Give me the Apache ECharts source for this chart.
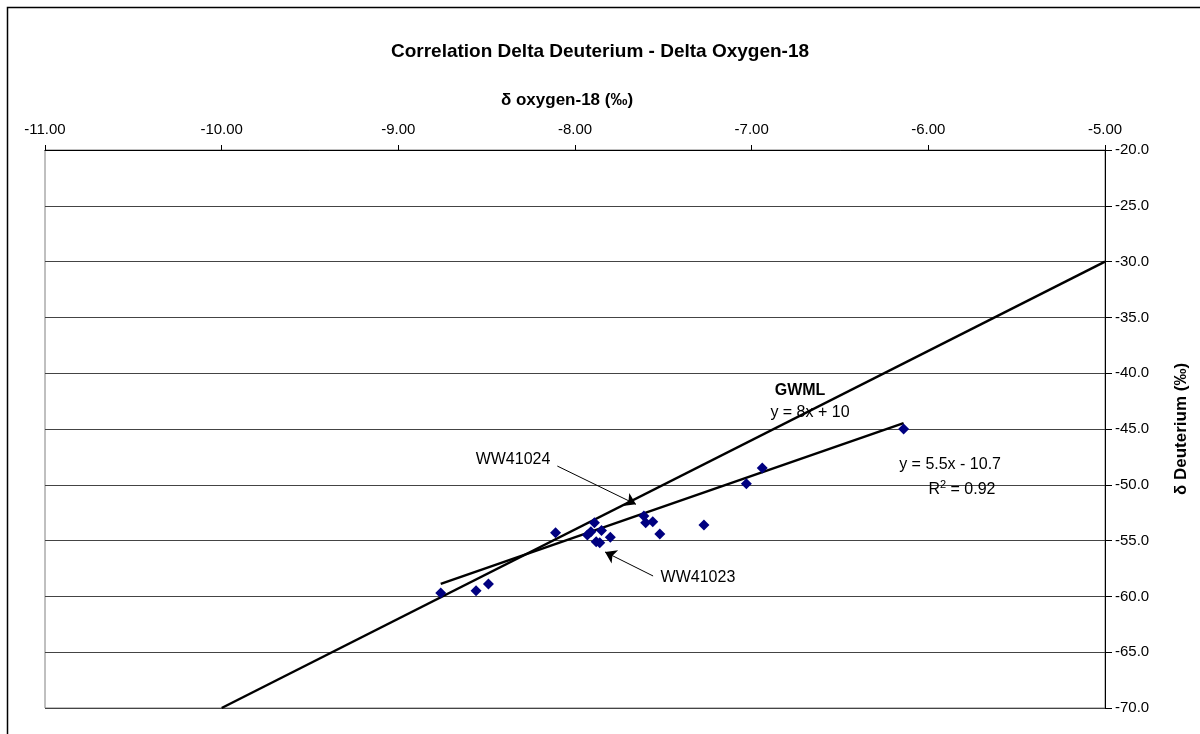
<!DOCTYPE html>
<html>
<head>
<meta charset="utf-8">
<script src="https://cdn.jsdelivr.net/npm/echarts@6/dist/echarts.min.js"></script>
<style>
  html, body { margin: 0; padding: 0; background: #fff; }
  #chart { width: 1200px; height: 734px; }
</style>
</head>
<body>
<div id="chart"></div>
<script>
// Sample isotope values (per mil)
const oxygen18 = [-8.76, -8.56, -8.49, -8.11, -7.89, -7.93, -7.91, -7.85, -7.88, -7.86,
                  -7.80, -7.61, -7.60, -7.56, -7.52, -7.27, -7.03, -6.94, -6.14];
const deuterium = [-59.7, -59.5, -58.9, -54.3, -53.4, -54.5, -54.2, -54.1, -55.1, -55.2,
                   -54.7, -52.8, -53.4, -53.3, -54.4, -53.6, -49.9, -48.5, -45.0];

// Global water meteoric line: y = 8x + 10
const gwmlSlope = 8;
const gwmlIntercept = 10;
const gwmlRange = [-10, -5];

// Linear fit of the samples: y = 5.5x - 10.7, R² = 0.92
const fitSlope = 5.5;
const fitIntercept = -10.7;
const fitR2 = 0.92;

// Axis ranges
const xRange = [-11, -5];
const yRange = [-70, -20];

const points = oxygen18.map((x, i) => [x, deuterium[i]]);
const lineAt = (m, b, x) => [x, m * x + b];
const gwmlData = gwmlRange.map(x => lineAt(gwmlSlope, gwmlIntercept, x));
const fitData = [Math.min(...oxygen18), Math.max(...oxygen18)].map(x => lineAt(fitSlope, fitIntercept, x));

const FONT = 'Liberation Sans, Arial, sans-serif';

const chart = echarts.init(document.getElementById('chart'), null, { renderer: 'canvas' });

const option = {
  animation: false,
  backgroundColor: '#ffffff',
  textStyle: { fontFamily: FONT },
  title: {
    text: 'Correlation Delta Deuterium - Delta Oxygen-18',
    left: 'center',
    top: 37,
    textStyle: { fontFamily: FONT, fontSize: 19, fontWeight: 'bold', color: '#000' }
  },
  grid: {
    left: 45, right: 95, top: 150, bottom: 26,
    show: true, borderColor: '#808080', borderWidth: 1, backgroundColor: '#fff'
  },
  xAxis: {
    type: 'value',
    position: 'top',
    min: xRange[0], max: xRange[1], interval: 1,
    name: 'δ oxygen-18 (‰)',
    nameLocation: 'middle',
    nameGap: 41,
    nameTextStyle: { fontFamily: FONT, fontSize: 17, fontWeight: 'bold', color: '#000',
                     padding: [0, 16, 0, 0] },
    axisLine: { show: true, onZero: false, lineStyle: { color: '#000', width: 1 } },
    axisTick: { show: true, inside: false, length: 5, lineStyle: { color: '#000' } },
    axisLabel: { fontFamily: FONT, fontSize: 15, color: '#000', margin: 13,
                 formatter: v => v.toFixed(2) },
    splitLine: { show: false }
  },
  yAxis: {
    type: 'value',
    position: 'right',
    min: yRange[0], max: yRange[1], interval: 5,
    name: 'δ Deuterium (‰)',
    nameLocation: 'middle',
    nameGap: 68,
    nameRotate: 90,
    nameTextStyle: { fontFamily: FONT, fontSize: 17, fontWeight: 'bold', color: '#000' },
    axisLine: { show: true, onZero: false, lineStyle: { color: '#000', width: 1 } },
    axisTick: { show: true, inside: false, length: 7, lineStyle: { color: '#000' } },
    axisLabel: { fontFamily: FONT, fontSize: 15, color: '#000', margin: 10,
                 formatter: v => v.toFixed(1) },
    splitLine: { show: true, lineStyle: { color: '#444', width: 1 } }
  },
  series: [
    {
      name: 'GWML',
      type: 'line',
      data: gwmlData,
      symbol: 'none',
      lineStyle: { color: '#000', width: 2.5 },
      z: 3
    },
    {
      name: 'Fit',
      type: 'line',
      data: fitData,
      symbol: 'none',
      lineStyle: { color: '#000', width: 2.5 },
      z: 3
    },
    {
      name: 'Samples',
      type: 'scatter',
      data: points,
      symbol: 'diamond',
      symbolSize: 11,
      itemStyle: { color: '#000080', opacity: 1 },
      z: 4,
      markLine: {
        silent: true,
        symbol: ['none', 'arrow'],
        symbolSize: 11,
        label: { show: false },
        lineStyle: { color: '#000', width: 1, type: 'solid', opacity: 1 },
        data: [
          [{ coord: [-8.10, -48.32] }, { coord: [-7.655, -51.75] }],
          [{ coord: [-7.558, -58.17] }, { coord: [-7.83, -56.02] }]
        ]
      }
    }
  ]
};

chart.setOption(option);

// Text annotations placed at data coordinates
const notes = [
  { pos: [-6.726, -41.6], text: 'GWML', bold: true },
  { pos: [-6.67, -43.5], text: 'y = 8x + 10' },
  { pos: [-5.877, -48.2], text: 'y = ' + fitSlope + 'x - ' + Math.abs(fitIntercept) },
  { pos: [-5.81, -50.3], text: '{r|R}{sup|2}{r| = ' + fitR2.toFixed(2) + '}', rich: true },
  { pos: [-8.351, -47.7], text: 'WW41024' },
  { pos: [-7.304, -58.35], text: 'WW41023' }
];

const graphics = [
  {
    type: 'rect',
    silent: true,
    shape: { x: 7.5, y: 7.5, width: 1200, height: 740 },
    style: { fill: 'none', stroke: '#000', lineWidth: 1.5 },
    z: 100
  }
];

notes.forEach(n => {
  const p = chart.convertToPixel({ xAxisIndex: 0, yAxisIndex: 0 }, n.pos);
  const style = {
    text: n.text,
    x: p[0], y: p[1],
    align: 'center', verticalAlign: 'middle',
    fontFamily: FONT, fontSize: 16,
    fontWeight: n.bold ? 'bold' : 'normal',
    fill: '#000'
  };
  if (n.rich) {
    style.rich = {
      r: { fontFamily: FONT, fontSize: 16, fill: '#000', verticalAlign: 'bottom' },
      sup: { fontFamily: FONT, fontSize: 11, fill: '#000', verticalAlign: 'top', padding: [0, 0, 7, 0] }
    };
  }
  graphics.push({ type: 'text', silent: true, z: 50, style });
});

chart.setOption({ graphic: graphics });
</script>
</body>
</html>
